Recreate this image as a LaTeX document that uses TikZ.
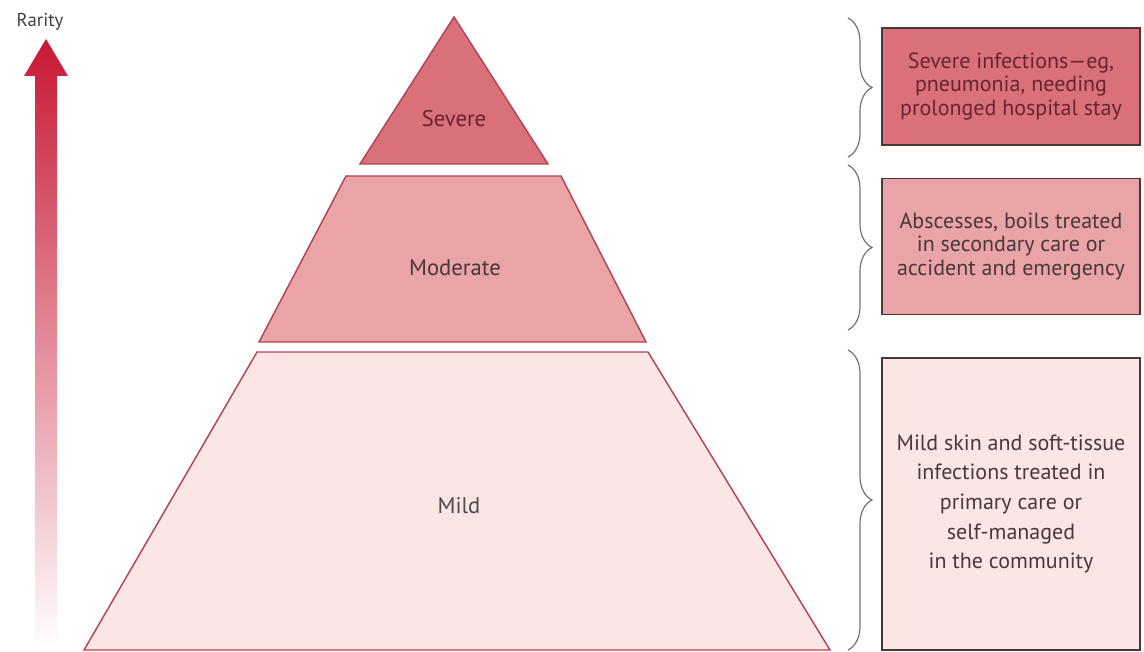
\documentclass[tikz,border=0pt]{standalone}
\usepackage{fontspec}
\setmainfont{PT Sans}
\usepackage{xcolor}
\usetikzlibrary{decorations.pathreplacing,positioning}
\definecolor{severeC}{RGB}{217,112,122}
\definecolor{moderateC}{RGB}{234,163,166}
\definecolor{mildC}{RGB}{252,229,229}
\definecolor{edgeC}{RGB}{176,70,86}
\definecolor{rarityC}{RGB}{200,24,52}
\definecolor{textC}{RGB}{72,56,56}
\definecolor{darkredC}{RGB}{104,38,44}

\begin{document}
\begin{tikzpicture}[
  x=0.75pt,y=-0.75pt,
  tier/.style={draw=edgeC,line width=1.1pt},
  tierlabel/.style={font=\fontsize{17}{20}\selectfont,text=textC},
  infobox/.style={draw=textC,line width=1pt,align=center,inner sep=0pt,
                  font=\fontsize{16.5}{17.8}\selectfont,text=textC,
                  minimum width=193.5pt},
  curly/.style={decorate,decoration={brace,amplitude=18pt,aspect=0.5},
                draw=black!55,line width=0.9pt}
]
  \useasboundingbox (0,0) rectangle (1144,652);

  % Rarity arrow
  \shade[top color=rarityC,middle color=rarityC!45,bottom color=white]
    (35,650) -- (35,76) -- (24,76) -- (46,39) -- (68,76) -- (57,76)
    -- (57,650) -- cycle;
  \node[font=\fontsize{14}{16}\selectfont,text=black!75] (rarity) at (40,22) {Rarity};

  % Severe tier
  \draw[tier,fill=severeC] (454,17) -- (548,164) -- (360,164) -- cycle;
  \node[tierlabel,text=darkredC] (severe) at (454,119) {Severe};

  % Moderate tier
  \draw[tier,fill=moderateC] (346,176) -- (561,176) -- (646,342) -- (259,342) -- cycle;
  \node[tierlabel] (moderate) at (455,268) {Moderate};

  % Mild tier
  \draw[tier,fill=mildC] (257,352) -- (648,352) -- (830,650) -- (84,650) -- cycle;
  \node[tierlabel,text=black!70] (mild) at (459,506) {Mild};

  % Braces
  \draw[curly] (848,18) -- (848,157);
  \draw[curly] (848,165) -- (848,330);
  \draw[curly] (848,350) -- (848,650);

  % Right column: descriptions
  \node[infobox,fill=severeC,text=darkredC,minimum height=87.75pt] (severebox) at (1011,86.5)
    {Severe infections---eg,\\pneumonia, needing\\prolonged hospital stay};
  \node[infobox,fill=moderateC,minimum height=102pt] (moderatebox) at (1011,246.5)
    {Abscesses, boils treated\\in secondary care or\\accident and emergency};
  \node[infobox,fill=mildC,minimum height=219pt,
        font=\fontsize{16.5}{22.2}\selectfont] (mildbox) at (1011,504)
    {Mild skin and soft-tissue\\infections treated in\\primary care or\\self-managed\\in the community};
\end{tikzpicture}
\end{document}
